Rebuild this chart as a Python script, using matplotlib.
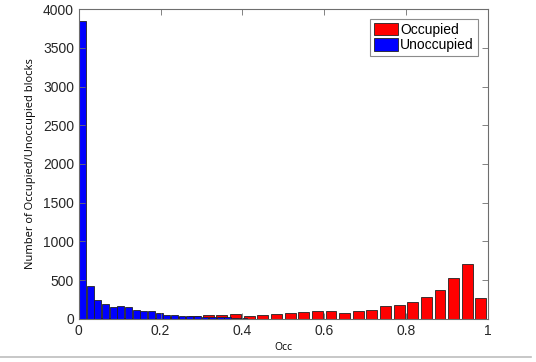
import numpy as np
import matplotlib
matplotlib.use("Agg")
import matplotlib.pyplot as plt
from matplotlib.lines import Line2D

# histogram counts
occupied_counts = [5, 8, 10, 12, 15, 18, 22, 28, 35, 45,
                   47, 58, 40, 46, 62, 75, 92, 108, 107, 77,
                   103, 116, 163, 185, 224, 279, 370, 529, 710, 267]
unoccupied_counts = [3850, 420, 243, 196, 151, 168, 151, 116, 103, 103,
                     81, 56, 56, 43, 39, 39, 30, 30, 25, 20, 18, 12]

occ_bin = 1.0 / len(occupied_counts)
unocc_bin = 0.0187

occ_centers = (np.arange(len(occupied_counts)) + 0.5) * occ_bin
unocc_centers = (np.arange(len(unoccupied_counts)) + 0.5) * unocc_bin

plt.rcParams["font.family"] = ["Liberation Sans", "DejaVu Sans"]

fig = plt.figure(figsize=(5.36, 3.62), dpi=100)
ax = fig.add_axes([0.147, 0.119, 0.763, 0.856])

ax.bar(occ_centers, occupied_counts, width=occ_bin * 0.8, color="red",
       edgecolor="#222222", linewidth=0.6, label="Occupied")
ax.bar(unocc_centers, unoccupied_counts, width=unocc_bin * 0.9, color="blue",
       edgecolor="#222222", linewidth=0.6, label="Unoccupied")

ax.set_xlim(0, 1)
ax.set_ylim(0, 4000)
ax.set_xticks([0, 0.2, 0.4, 0.6, 0.8, 1])
ax.set_xticklabels(["0", "0.2", "0.4", "0.6", "0.8", "1"])
ax.set_yticks(range(0, 4001, 500))

for s in ax.spines.values():
    s.set_color("#6e6e6e")
    s.set_linewidth(0.8)
ax.tick_params(direction="in", top=True, right=True, length=4, width=0.6,
               color="#6e6e6e", labelcolor="#262626", labelsize=10)

ax.set_xlabel("Occ", fontsize=7.5, family=["Open Sans", "DejaVu Sans"], labelpad=3)
ax.set_ylabel("Number of Occupied/Unoccupied blocks", fontsize=8,
              family=["Open Sans", "DejaVu Sans"], labelpad=5)

leg = ax.legend(loc="upper right", fontsize=10, frameon=True, fancybox=False,
                borderpad=0.3, handlelength=1.75, handleheight=1.0,
                handletextpad=0.15, borderaxespad=0.7, labelspacing=0.1)
leg.get_frame().set_edgecolor("#6e6e6e")
leg.get_frame().set_linewidth(0.8)

# grey rule along the bottom of the picture
fig.add_artist(Line2D([0, 0.99], [0.014, 0.014], color="#bdbdbd", linewidth=1.2,
                      transform=fig.transFigure))

fig.savefig("out.png", dpi=100)
